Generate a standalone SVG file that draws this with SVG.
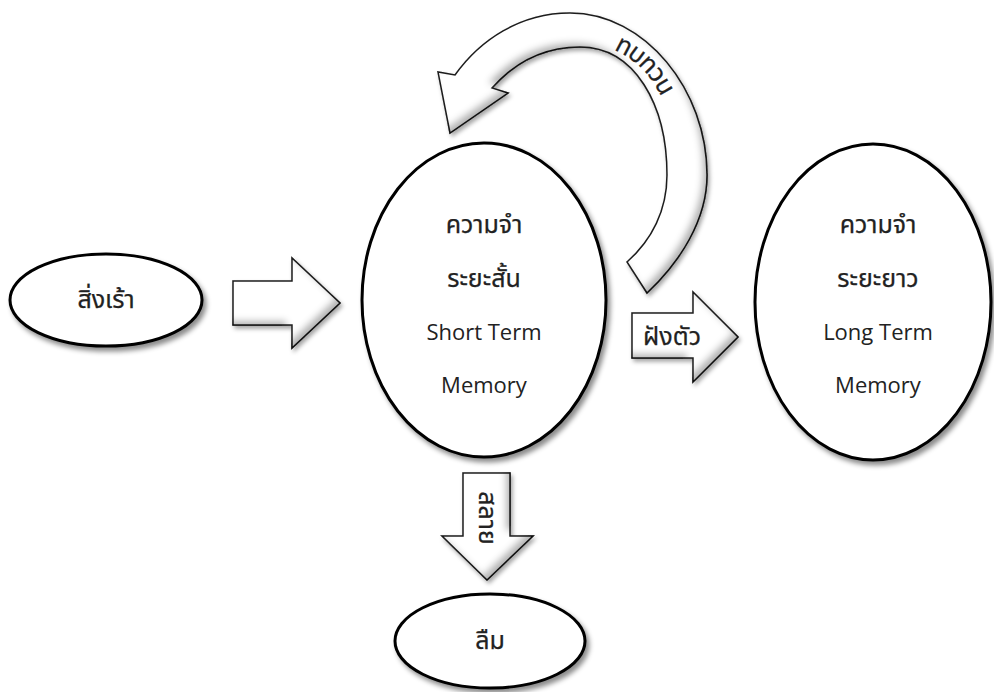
<svg xmlns="http://www.w3.org/2000/svg" width="994" height="692" viewBox="0 0 994 692">
<style>
.node{fill:#fff;stroke:#000;stroke-width:3}
.blk{fill:#fff;stroke:#222;stroke-width:1.5;stroke-linejoin:miter}
.t{font-family:"Noto Sans Thai","Noto Sans","Open Sans",sans-serif;font-size:25px;font-weight:400;fill:#222;stroke:#222;stroke-width:0.25;text-anchor:middle}
.e{font-family:"Open Sans","Noto Sans",sans-serif;font-size:22px;fill:#222;text-anchor:middle}
</style>
<defs>
<filter id="sh" x="-10%" y="-10%" width="125%" height="125%">
<feGaussianBlur in="SourceAlpha" stdDeviation="2.5"/>
<feOffset dx="3" dy="4" result="o"/>
<feFlood flood-color="#000" flood-opacity="0.45"/>
<feComposite in2="o" operator="in" result="ds"/>
<feMerge><feMergeNode in="ds"/><feMergeNode in="SourceGraphic"/></feMerge>
</filter>
<filter id="bev" x="-15%" y="-15%" width="135%" height="135%">
<feOffset in="SourceAlpha" dx="-5" dy="-5" result="sa"/>
<feGaussianBlur in="sa" stdDeviation="3.5" result="sab"/>
<feComposite in="SourceAlpha" in2="sab" operator="out" result="edge"/>
<feFlood flood-color="#000" flood-opacity="0.55"/>
<feComposite in2="edge" operator="in" result="shade"/>
<feGaussianBlur in="SourceAlpha" stdDeviation="2"/>
<feOffset dx="2" dy="3" result="o"/>
<feFlood flood-color="#000" flood-opacity="0.35"/>
<feComposite in2="o" operator="in" result="ds"/>
<feMerge><feMergeNode in="ds"/><feMergeNode in="SourceGraphic"/><feMergeNode in="shade"/></feMerge>
</filter>
<path id="arcText" d="M 506,51 C 560,20 630,30 661,80 C 680,110 688,140 687,173"/>
</defs>
<g id="connectors">
<g id="c-stim-stm"><polygon class="blk" filter="url(#bev)" points="233,281 292,281 292,258 340,303 292,348 292,325 233,325"/></g>
<g id="c-rehearse">
<path class="blk" filter="url(#bev)" d="M 647,293 C 680,262 707,220 707,175 C 707,90 645,13 570,13 C 520,13 480,40 455,75 L 438,72 L 450,133 L 508,93 L 492,88 C 515,62 545,47 580,47 C 635,47 667,105 667,175 C 667,210 652,240 627,262 Z"/>
<text class="t" font-size="22"><textPath href="#arcText" startOffset="56%" dominant-baseline="central">ทบทวน</textPath></text>
</g>
<g id="c-stm-ltm"><polygon class="blk" filter="url(#bev)" points="632,313 693,313 693,292 738,337 693,382 693,358 632,358"/>
<text class="t" x="672" y="345" font-size="22">ฝังตัว</text></g>
<g id="c-stm-forget"><polygon class="blk" filter="url(#bev)" points="463,473 510,473 510,536 533,536 487,580 442,536 463,536"/>
<text class="t" transform="translate(487,518) rotate(90)" y="8" font-size="23">สลาย</text></g>
</g>
<g id="stim"><ellipse class="node" filter="url(#sh)" cx="106" cy="300" rx="96" ry="46"/><text class="t" x="106" y="308" font-size="26">สิ่งเร้า</text></g>
<g id="stm"><ellipse class="node" filter="url(#sh)" cx="484" cy="300" rx="122" ry="157"/>
<text class="t" x="484" y="233">ความจำ</text>
<text class="t" x="484" y="287">ระยะสั้น</text>
<text class="e" x="484" y="340">Short Term</text>
<text class="e" x="484" y="393">Memory</text></g>
<g id="ltm"><ellipse class="node" filter="url(#sh)" cx="873" cy="302" rx="118" ry="158"/>
<text class="t" x="878" y="233">ความจำ</text>
<text class="t" x="878" y="287">ระยะยาว</text>
<text class="e" x="878" y="340">Long Term</text>
<text class="e" x="878" y="393">Memory</text></g>
<g id="forget"><ellipse class="node" filter="url(#sh)" cx="490" cy="641" rx="95" ry="47"/><text class="t" x="490" y="649" font-size="26">ลืม</text></g>
</svg>
